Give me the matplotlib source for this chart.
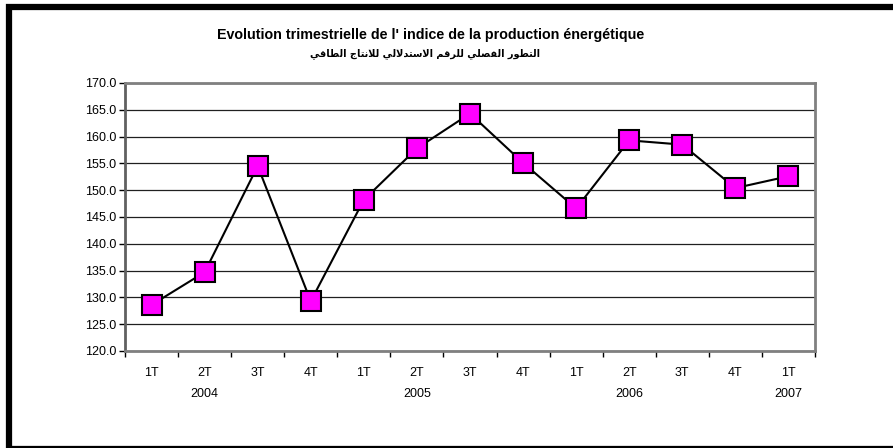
"""
Quarterly energy production index, 2004-2007 (line chart with square markers).
"""
import matplotlib
matplotlib.use("Agg")
import matplotlib.pyplot as plt
import matplotlib.patches as mpatches
from matplotlib.transforms import blended_transform_factory

# Data
quarters = ["1T", "2T", "3T", "4T", "1T", "2T", "3T", "4T",
            "1T", "2T", "3T", "4T", "1T"]
values = [128.6, 134.7, 154.5, 129.3, 148.2, 157.8, 164.3, 155.1,
          146.6, 159.3, 158.5, 150.4, 152.6]
years = ["2004", "2005", "2006", "2007"]
year_positions = [1, 5, 9, 12]
y_ticks = [120, 125, 130, 135, 140, 145, 150, 155, 160, 165, 170]

title_fr = "Evolution trimestrielle de l' indice de la production énergétique"
title_ar = "التطور الفصلي للرقم الاستدلالي للانتاج الطاقي"

# Arabic presentation forms: (isolated, final, initial, medial)
FORMS = {
    "ا": ("\uFE8D", "\uFE8E", None, None),
    "ت": ("\uFE95", "\uFE96", "\uFE97", "\uFE98"),
    "ج": ("\uFE9D", "\uFE9E", "\uFE9F", "\uFEA0"),
    "د": ("\uFEA9", "\uFEAA", None, None),
    "ر": ("\uFEAD", "\uFEAE", None, None),
    "س": ("\uFEB1", "\uFEB2", "\uFEB3", "\uFEB4"),
    "ص": ("\uFEB9", "\uFEBA", "\uFEBB", "\uFEBC"),
    "ط": ("\uFEC1", "\uFEC2", "\uFEC3", "\uFEC4"),
    "ف": ("\uFED1", "\uFED2", "\uFED3", "\uFED4"),
    "ق": ("\uFED5", "\uFED6", "\uFED7", "\uFED8"),
    "ل": ("\uFEDD", "\uFEDE", "\uFEDF", "\uFEE0"),
    "م": ("\uFEE1", "\uFEE2", "\uFEE3", "\uFEE4"),
    "ن": ("\uFEE5", "\uFEE6", "\uFEE7", "\uFEE8"),
    "و": ("\uFEED", "\uFEEE", None, None),
    "ي": ("\uFEF1", "\uFEF2", "\uFEF3", "\uFEF4"),
    "لا": ("\uFEFB", "\uFEFC", None, None),
}


def shape_arabic(text):
    """Very small Arabic shaper + visual reordering for matplotlib."""
    out_words = []
    for word in text.split(" "):
        # Split into units, merging lam-alef
        units = []
        i = 0
        while i < len(word):
            if word[i] == "ل" and i + 1 < len(word) and word[i + 1] == "ا":
                units.append("لا")
                i += 2
            else:
                units.append(word[i])
                i += 1
        shaped = []
        for k, u in enumerate(units):
            iso, fin, ini, med = FORMS[u]
            prev_joins = k > 0 and FORMS[units[k - 1]][2] is not None
            next_exists = k + 1 < len(units) and ini is not None
            if prev_joins and next_exists:
                shaped.append(med)
            elif prev_joins:
                shaped.append(fin)
            elif next_exists:
                shaped.append(ini)
            else:
                shaped.append(iso)
        out_words.append("".join(shaped))
    return " ".join(out_words)[::-1]


plt.rcParams["font.family"] = ["Liberation Sans", "DejaVu Sans"]

fig = plt.figure(figsize=(8.93, 4.48), dpi=100)
ax = fig.add_axes([125 / 893, 1 - 351 / 448, 690 / 893, 268 / 448])

x = list(range(len(values)))
ax.plot(x, values, color="black", lw=1.5, marker="s", markersize=14,
        markerfacecolor="#FF00FF", markeredgecolor="black",
        markeredgewidth=1.5, zorder=3)

ax.set_xlim(-0.5, len(values) - 0.5)
ax.set_ylim(120, 170)
ax.set_yticks(y_ticks)
ax.set_yticklabels([f"{v:.1f}" for v in y_ticks], fontsize=9)
ax.yaxis.grid(True, color="#202020", lw=0.9)
ax.set_axisbelow(True)

# Ticks between categories, labels at category centers
ax.set_xticks([i - 0.5 for i in range(len(values) + 1)])
ax.set_xticklabels([])
ax.tick_params(axis="x", which="major", length=4, width=1, color="black")
ax.tick_params(axis="y", length=4, width=1, color="black", pad=2)

trans = blended_transform_factory(ax.transData, fig.transFigure)
for xi, q in zip(x, quarters):
    ax.text(xi, 1 - 373 / 448, q, transform=trans, ha="center",
            va="center", fontsize=9)
for xi, yr in zip(year_positions, years):
    ax.text(xi, 1 - 394 / 448, yr, transform=trans, ha="center",
            va="center", fontsize=9)

for side in ["top", "right", "bottom"]:
    ax.spines[side].set_color("#808080")
    ax.spines[side].set_linewidth(2)
ax.spines["left"].set_color("#606060")
ax.spines["left"].set_linewidth(2)

# Titles
fig.text(431 / 893, 1 - 35 / 448, title_fr, ha="center", va="center",
         fontsize=10.3, fontweight="bold")
fig.text(425 / 893, 1 - 54 / 448, shape_arabic(title_ar), ha="center",
         va="center", fontsize=7, fontweight="bold",
         family=["DejaVu Sans"])

# Outer frame
frame = mpatches.Rectangle((9 / 893, 1 - 448.5 / 448), 2, 441.5 / 448,
                           transform=fig.transFigure, fill=False,
                           ec="black", lw=4.5, clip_on=False)
fig.patches.append(frame)

fig.savefig("out.png", dpi=100, facecolor="white")
